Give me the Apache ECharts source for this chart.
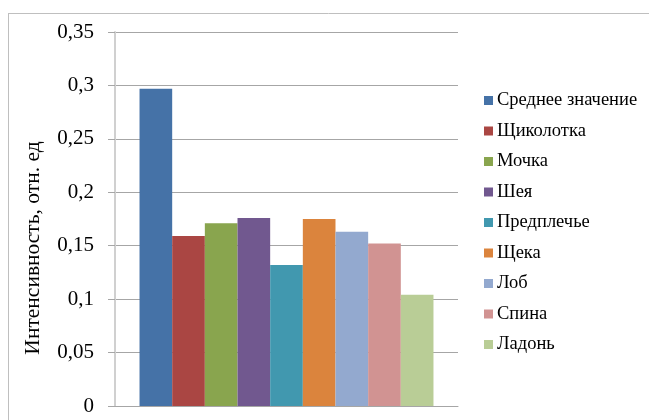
<!DOCTYPE html>
<html>
<head>
<meta charset="utf-8">
<script src="https://cdn.jsdelivr.net/npm/echarts@6/dist/echarts.min.js"></script>
<style>html,body{margin:0;padding:0;background:#fff;}#c{width:649px;height:420px;}</style>
</head>
<body>
<div id="c"></div>
<script>
const seriesNames = ['Среднее значение','Щиколотка','Мочка','Шея','Предплечье','Щека','Лоб','Спина','Ладонь'];
const seriesValues = [0.297, 0.159, 0.171, 0.176, 0.132, 0.175, 0.163, 0.152, 0.104];
const seriesColors = ['#4572A7','#AA4643','#89A54E','#71588F','#4198AF','#DB843D','#93A9CF','#D19392','#B9CD96'];
const yTicks = [0, 0.05, 0.1, 0.15, 0.2, 0.25, 0.3, 0.35];
const yTitle = 'Интенсивность, отн. ед';
const font = 'Liberation Serif';

const chart = echarts.init(document.getElementById('c'), null, {renderer: 'canvas'});
const series = seriesNames.map((n, i) => ({
  name: n,
  type: 'bar',
  data: [seriesValues[i]],
  itemStyle: {color: seriesColors[i]},
  barGap: '0%',
  barCategoryGap: '14.3%',
  animation: false
}));
chart.setOption({
  animation: false,
  grid: {left: 115, top: 32, width: 343, height: 374, containLabel: false},
  legend: {
    orient: 'vertical',
    left: 484,
    top: 91,
    padding: 0,
    itemWidth: 9,
    itemHeight: 9,
    itemGap: 11.5,
    icon: 'rect',
    textStyle: {fontFamily: font, fontSize: 18.5, color: '#000', padding: [0,0,0,-1]},
    data: seriesNames
  },
  xAxis: {
    type: 'category',
    data: [''],
    axisLine: {show: true, lineStyle: {color: '#a6a6a6', width: 1}},
    axisTick: {show: false},
    axisLabel: {show: false}
  },
  yAxis: {
    type: 'value',
    min: 0,
    max: 0.35,
    interval: 0.05,
    axisLine: {show: true, lineStyle: {color: '#d0d0d0', width: 2}},
    axisTick: {show: true, length: 7, lineStyle: {color: '#a6a6a6'}},
    splitLine: {show: true, lineStyle: {color: '#a6a6a6', width: 1}},
    axisLabel: {
      margin: 21,
      fontFamily: font, fontSize: 21, color: '#000',
      formatter: v => {
        const t = yTicks.find(x => Math.abs(x - v) < 1e-9);
        return String(+(t !== undefined ? t : v).toFixed(2)).replace('.', ',');
      }
    }
  },
  graphic: [
    {type: 'line', shape: {x1: 8.5, y1: 13, x2: 8.5, y2: 420}, style: {stroke: '#bfbfbf', lineWidth: 1}, silent: true},
    {type: 'line', shape: {x1: 8, y1: 13.5, x2: 649, y2: 13.5}, style: {stroke: '#bfbfbf', lineWidth: 1}, silent: true},
    {type: 'text', x: 33, y: 248, rotation: Math.PI / 2,
     style: {text: yTitle, font: '21.5px "Liberation Serif"', fill: '#000', align: 'center', verticalAlign: 'middle'}}
  ],
  series: series
});
</script>
</body>
</html>
